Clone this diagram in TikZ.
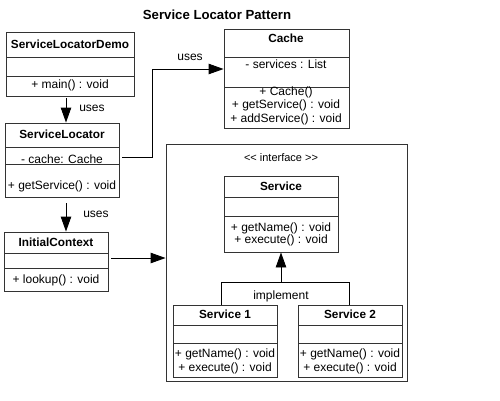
\documentclass[tikz,border=0pt]{standalone}
\usepackage{fontspec}
\setmainfont{Liberation Sans}
\usetikzlibrary{arrows.meta,fit}
\begin{document}
\begin{tikzpicture}[x=1pt,y=-1pt,
  box/.style={draw=black!80, line width=0.9pt, inner sep=0pt},
  txt/.style={inner sep=0pt, font=\fontsize{12}{14}\selectfont, align=center},
  ttl/.style={inner sep=0pt, font=\fontsize{11.8}{14}\selectfont\bfseries},
  dv/.style={draw=black!80, line width=0.9pt},
  arr/.style={draw=black, line width=0.9pt, -{Triangle[length=15pt,width=10.5pt]}},
  ln/.style={draw=black, line width=0.9pt}]
\useasboundingbox (0,0) rectangle (500,400);
\node[inner sep=0pt, font=\fontsize{13.2}{15}\selectfont\bfseries] (title) at (217,15) {Service Locator Pattern};

% ServiceLocatorDemo
\node[box, fit={(6,32) (134,96)}] (demo) {};
\draw[dv] (6,57) -- (134,57) (6,76) -- (134,76);
\node[ttl] (demoT) at (70,44) {ServiceLocatorDemo};
\node[txt] (demoM) at (70,85) {+ main() : void};

% ServiceLocator
\node[box, fit={(5,123) (119,197)}] (sl) {};
\draw[dv] (5,147) -- (119,147) (5,164) -- (119,164);
\node[ttl] (slT) at (62,134) {ServiceLocator};
\node[txt] (slA) at (62,159) {- cache: Cache};
\node[txt] (slM) at (62,186) {+ getService() : void};

% InitialContext
\node[box, fit={(4,232) (108,291)}] (ic) {};
\draw[dv] (4,253) -- (108,253) (4,268) -- (108,268);
\node[ttl] (icT) at (56,242) {InitialContext};
\node[txt] (icM) at (56,280) {+ lookup() : void};

% Cache
\node[box, fit={(224,29) (349,128)}] (cache) {};
\draw[dv] (224,57) -- (349,57) (224,87) -- (349,87);
\node[ttl] (cacheT) at (286,38) {Cache};
\node[txt] (cacheA) at (286,64) {- services : List};
\node[txt] (cacheM1) at (286,92) {+ Cache()};
\node[txt] (cacheM2) at (286,105) {+ getService() : void};
\node[txt] (cacheM3) at (286,119) {+ addService() : void};

% Interface frame
\node[box, fit={(166,144) (407,381)}] (iface) {};
\node[inner sep=0pt, font=\fontsize{11}{13}\selectfont] (ifT) at (281,158) {<{}< interface >{}>};

% Service
\node[box, fit={(224,176) (338,252)}] (svc) {};
\draw[dv] (224,197) -- (338,197) (224,216) -- (338,216);
\node[ttl] (svcT) at (281,186) {Service};
\node[txt] (svcM1) at (281,228) {+ getName() : void};
\node[txt] (svcM2) at (281,240) {+ execute() : void};

% Service 1
\node[box, fit={(173,305) (277,377)}] (s1) {};
\draw[dv] (173,325) -- (277,325) (173,343) -- (277,343);
\node[ttl] (s1T) at (225,314) {Service 1};
\node[txt] (s1M1) at (225,354) {+ getName() : void};
\node[txt] (s1M2) at (225,368) {+ execute() : void};

% Service 2
\node[box, fit={(298,305) (402,377)}] (s2) {};
\draw[dv] (298,325) -- (402,325) (298,343) -- (402,343);
\node[ttl] (s2T) at (350,314) {Service 2};
\node[txt] (s2M1) at (350,354) {+ getName() : void};
\node[txt] (s2M2) at (350,368) {+ execute() : void};

% connectors
\coordinate (xa) at (66,0);
\draw[arr, shorten <=2pt] (demo.south -| xa) -- (sl.north -| xa);
\node[txt] (u1) at (92,108) {uses};
\draw[arr, shorten <=6pt] (sl.south -| xa) -- (ic.north -| xa);
\node[txt] (u2) at (96,214) {uses};

\coordinate (c1) at (122,157);
\coordinate (c2) at (152,157);
\coordinate (c3) at (152,69);
\draw[arr] (c1) -- (c2) -- (c3) -- (cache.west |- c3);
\node[txt] (u3) at (190,57) {uses};

\coordinate (icy) at (0,258);
\coordinate (icx) at (111,258);
\draw[arr] (icx) -- (iface.west |- icy);

\coordinate (j1) at (221,282);
\coordinate (j2) at (349,282);
\coordinate (jm) at (281,282);
\draw[ln] (s1.north -| j1) -- (j1) -- (j2) -- (s2.north -| j2);
\draw[arr] (jm) -- (svc.south -| jm);
\node[txt] (impl) at (281,296) {implement};
\end{tikzpicture}
\end{document}
